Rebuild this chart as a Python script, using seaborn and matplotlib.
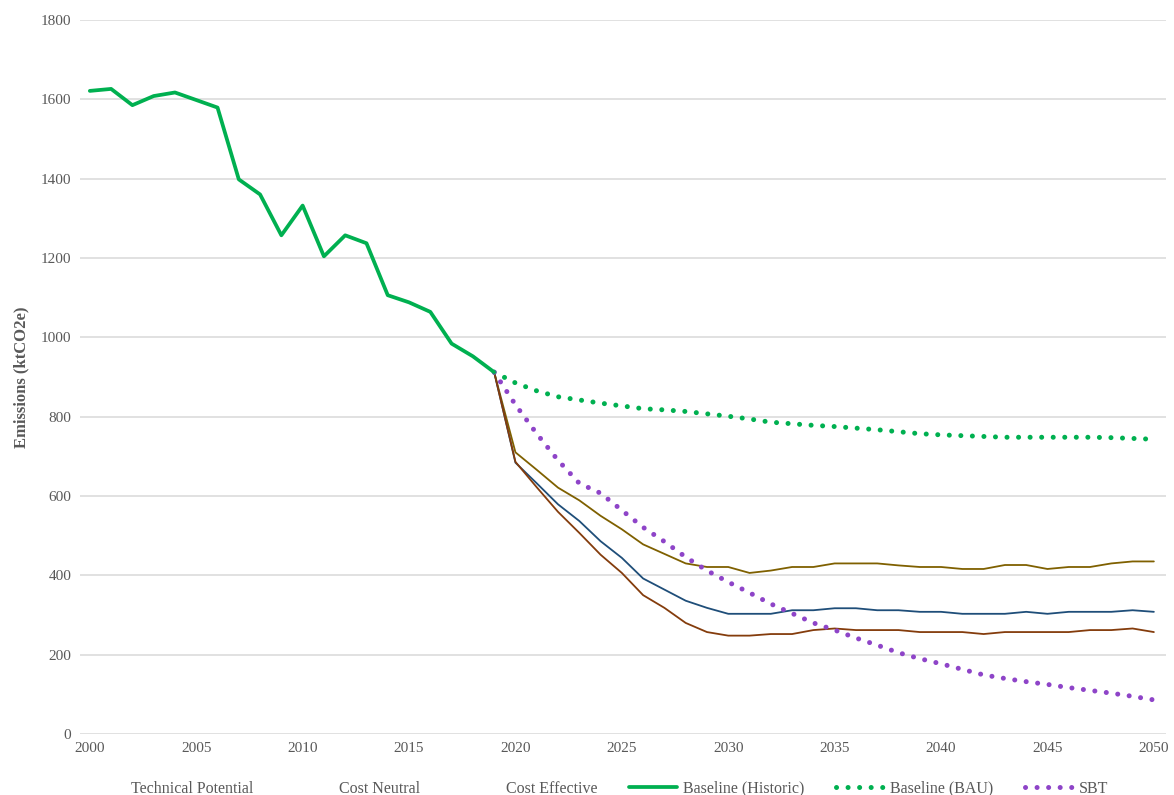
import numpy as np
import pandas as pd
import matplotlib
matplotlib.use("Agg")
import matplotlib.pyplot as plt
import seaborn as sns
from matplotlib.lines import Line2D

# Historic baseline 2000-2019
hist_years = list(range(2000, 2020))
hist_vals = [1621, 1626, 1585, 1608, 1617, 1598, 1579, 1398, 1360, 1257,
             1332, 1204, 1257, 1237, 1106, 1088, 1064, 984, 952, 912]

# Projections 2019-2050
proj_years = list(range(2019, 2051))
bau_vals = [912, 885, 865, 850, 842, 834, 827, 820, 817, 813, 807, 801, 794, 786,
            782, 778, 775, 771, 767, 762, 757, 754, 752, 750, 748, 748, 748, 748,
            748, 747, 745, 743]
sbt_vals = [912, 830, 757, 690, 632, 607, 564, 521, 485, 446, 412, 383, 356, 328,
            304, 280, 262, 242, 224, 205, 190, 177, 163, 149, 140, 132, 125, 117,
            110, 103, 95, 86]
gold_vals = [912, 710, 666, 621, 589, 550, 516, 478, 454, 430, 421, 421, 406, 412,
             421, 421, 430, 430, 430, 425, 421, 421, 416, 416, 426, 426, 416, 421,
             421, 430, 435, 435]
blue_vals = [912, 684, 632, 579, 537, 486, 444, 392, 364, 336, 318, 303, 303, 303,
             312, 312, 317, 317, 312, 312, 308, 308, 303, 303, 303, 308, 303, 308,
             308, 308, 312, 308]
brown_vals = [912, 686, 622, 560, 507, 452, 406, 350, 318, 280, 257, 248, 248, 252,
              252, 262, 266, 262, 262, 262, 257, 257, 257, 252, 257, 257, 257, 257,
              262, 262, 266, 257]

legend_labels = ["Technical Potential", "Cost Neutral", "Cost Effective",
                 "Baseline (Historic)", "Baseline (BAU)", "SBT"]

GREEN = "#00B050"
PURPLE = "#8E44C8"
GOLD = "#7F6000"
BLUE = "#1F4E79"
BROWN = "#843C0C"
GREY = "#595959"

sns.set_style("white")
plt.rcParams['font.family'] = ['Liberation Serif', 'DejaVu Serif']

fig = plt.figure(figsize=(11.74, 7.95), dpi=100)
ax = fig.add_axes([0.068, 0.0767, 0.925, 0.8983])

dot_style = dict(linestyle=(0, (0.01, 2.3)), dash_capstyle='round', linewidth=3.6)

sns.lineplot(x=proj_years, y=gold_vals, ax=ax, color=GOLD, linewidth=1.3)
sns.lineplot(x=proj_years, y=blue_vals, ax=ax, color=BLUE, linewidth=1.3)
sns.lineplot(x=proj_years, y=brown_vals, ax=ax, color=BROWN, linewidth=1.3)
sns.lineplot(x=proj_years, y=bau_vals, ax=ax, color=GREEN, **dot_style)
sns.lineplot(x=proj_years, y=sbt_vals, ax=ax, color=PURPLE, **dot_style)
sns.lineplot(x=hist_years, y=hist_vals, ax=ax, color=GREEN, linewidth=2.7)

ax.set_xlim(1999.53, 2050.56)
ax.set_ylim(0, 1800)
ax.set_xticks(range(2000, 2051, 5))
ax.set_yticks(range(0, 1801, 200))
ax.grid(axis='y', color="#d9d9d9", linewidth=1.1)
ax.set_axisbelow(True)
for s in ax.spines.values():
    s.set_visible(False)
ax.tick_params(axis='both', length=0, labelsize=11, labelcolor=GREY, pad=6)
ax.set_xlabel("")
ax.set_ylabel("Emissions (ktCO2e)", fontsize=12, fontweight='bold', color=GREY, labelpad=8)

handles = [
    Line2D([], [], color='none'),
    Line2D([], [], color='none'),
    Line2D([], [], color='none'),
    Line2D([], [], color=GREEN, linewidth=2.7),
    Line2D([], [], color=GREEN, **dot_style),
    Line2D([], [], color=PURPLE, **dot_style),
]
leg = fig.legend(handles, legend_labels, loc='lower center', bbox_to_anchor=(0.505, -0.02),
                 ncol=6, frameon=False, fontsize=11.5, handlelength=3.0,
                 columnspacing=2.0, handletextpad=0.35)
for t in leg.get_texts():
    t.set_color(GREY)

fig.savefig("out.png", dpi=100)
